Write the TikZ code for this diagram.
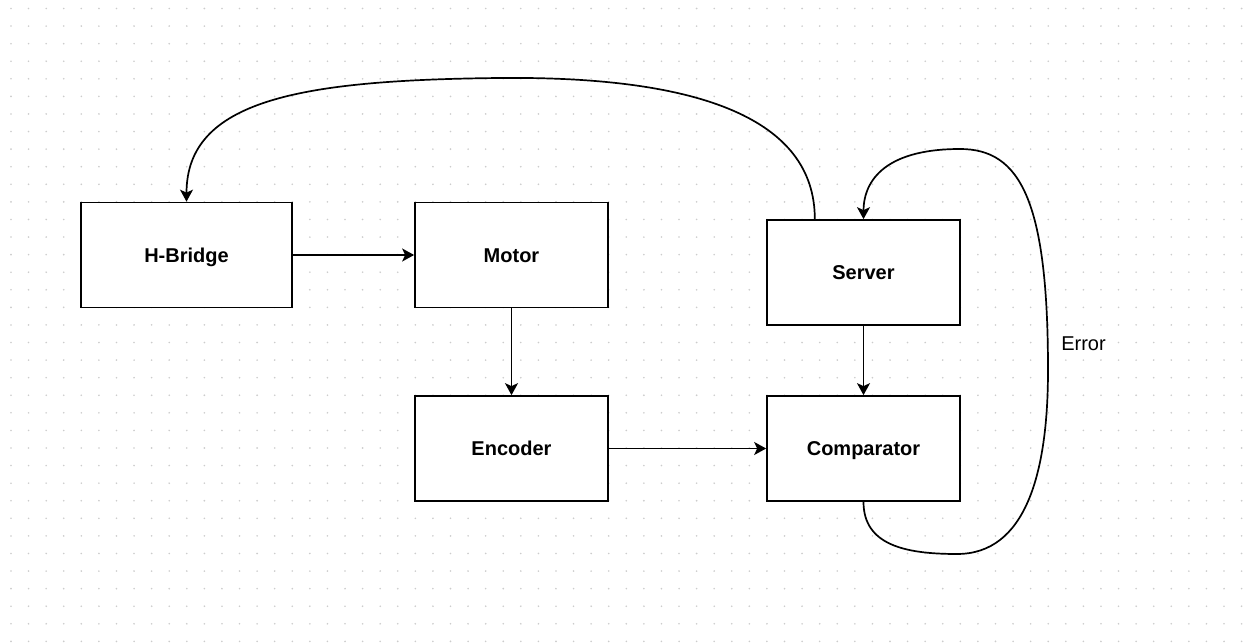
\documentclass[tikz,border=0pt]{standalone}
\usepackage{fontspec}
\setmainfont{Liberation Sans}
\usetikzlibrary{arrows.meta,calc}
\begin{document}
\begin{tikzpicture}[x=1pt,y=-1pt,
  blk/.style={draw=black,line width=1.7pt,fill=white,minimum width=211pt,minimum height=105pt,inner sep=0pt,text height=14.3pt,text depth=0pt,font=\fontsize{20}{24}\selectfont\bfseries},
  blks/.style={blk,minimum width=193pt},
  arr/.style={line width=1.7pt,-{Stealth[length=12pt,width=13pt,inset=3pt]}},
  lbl/.style={font=\fontsize{20}{24}\selectfont,inner sep=0pt}]
\useasboundingbox (0,0) rectangle (1243,644);
\fill[white] (0,0) rectangle (1243,644);
% dot grid
\foreach \i in {0,...,70}{
  \foreach \j in {0,...,36}{
    \fill[black!20] ({11+17.58*\i},{8.5+17.58*\j}) circle (0.9pt);
  }
}
\node[blk]  (hb) at (186.5,255) {H-Bridge};
\node[blks] (mo) at (511.5,255) {Motor};
\node[blks] (en) at (511.5,448.5) {Encoder};
\node[blks] (sv) at (863.5,272.5) {Server};
\node[blks] (co) at (863.5,448.5) {Comparator};
\node[lbl]  (err) at (1083.5,344) {Error};
\coordinate (svl) at ($(sv.north west)!0.25!(sv.north east)$);
\draw[arr] (hb.east) -- (mo.west);
\draw[arr] (mo.south) -- (en.north);
\draw[arr] (en.east) -- (co.west);
\draw[arr] (sv.south) -- (co.north);
\draw[arr] (svl) .. controls ++(0,-100) and (700,76) .. (500,78)
  .. controls (300,80) and (186.5,100) .. (hb.north);
\draw[arr] (co.south) .. controls (863.5,545) and (905,554) .. (957,554)
  .. controls (1025,554) and (1048,475) .. (1048,370)
  .. controls (1048,200) and (1020,149) .. (960,149)
  .. controls (880,149) and (863.5,185) .. (sv.north);
\end{tikzpicture}
\end{document}
